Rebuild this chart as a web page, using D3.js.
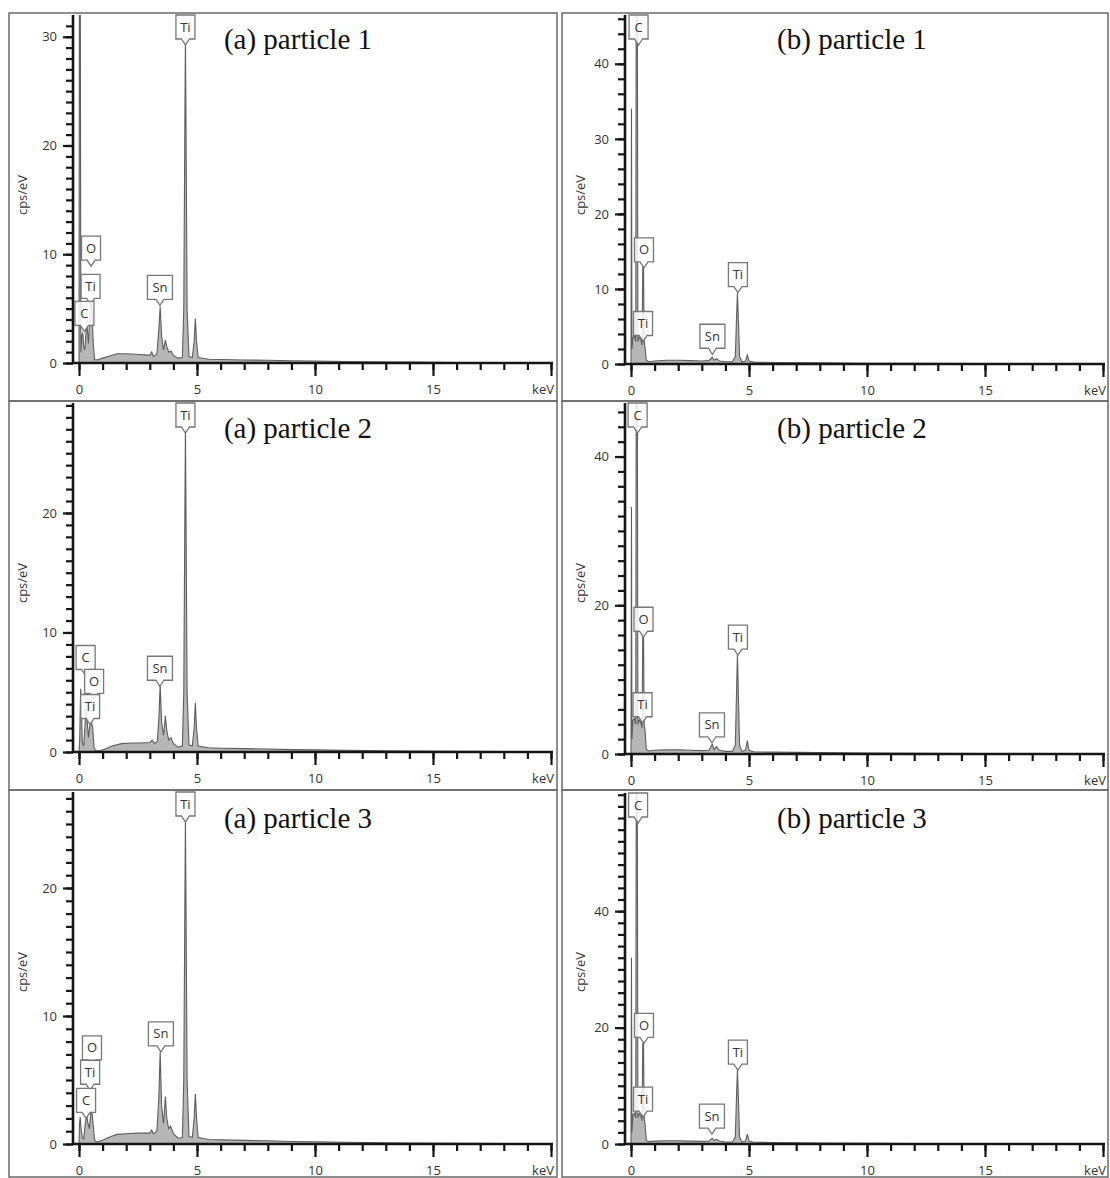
<!DOCTYPE html>
<html><head><meta charset="utf-8">
<script src="https://cdn.jsdelivr.net/npm/d3@7"></script>
<style>body{margin:0;background:#fff} svg{display:block}</style>
</head><body>
<svg id="c" width="1110" height="1178"></svg>
<script>
// ---------- DATA ----------
const titles = ["(a) particle 1","(b) particle 1","(a) particle 2","(b) particle 2","(a) particle 3","(b) particle 3"];
const yAxisTitle = "cps/eV";
const xUnit = "keV";
const xTickLabels = [0, 5, 10, 15];

// spectra: [keV, cps/eV]
const specA1 = [[0,0],[0.02,40],[0.05,40],[0.08,1],[0.12,2.5],[0.16,2.8],[0.2,1.5],[0.25,1.2],[0.3,3],[0.35,3.2],[0.4,1.8],[0.45,4],[0.5,5.6],[0.55,5],[0.6,2],[0.66,0.3],[0.8,0.3],[1.0,0.45],[1.3,0.65],[1.6,0.85],[2.0,0.85],[2.4,0.8],[2.8,0.75],[3.0,0.7],[3.08,1.0],[3.15,0.6],[3.3,0.8],[3.38,3],[3.44,5.2],[3.5,2.5],[3.58,1.2],[3.66,2.1],[3.72,1.5],[3.8,1.0],[3.9,1.1],[4.0,0.7],[4.2,0.45],[4.38,0.5],[4.44,5],[4.48,20],[4.51,30],[4.54,20],[4.58,5],[4.66,0.6],[4.8,0.5],[4.88,2],[4.93,4.1],[4.98,2],[5.05,0.5],[5.5,0.35],[6,0.32],[7,0.28],[8,0.25],[9,0.2],[10,0.18],[12,0.12],[14,0.08],[16,0.05],[18,0.03],[20,0.02]];
const specA2 = [[0,0],[0.03,1],[0.07,5.3],[0.1,4],[0.14,0.8],[0.2,0.5],[0.25,2],[0.3,3.8],[0.35,2.5],[0.4,1.2],[0.46,2.2],[0.52,2.6],[0.58,2],[0.64,0.4],[0.7,0.1],[0.9,0.1],[1.1,0.25],[1.4,0.5],[1.8,0.7],[2.2,0.75],[2.6,0.75],[3.0,0.8],[3.1,1.0],[3.2,0.7],[3.32,0.9],[3.39,3],[3.44,5.6],[3.5,2.5],[3.58,1.4],[3.66,3.0],[3.72,1.8],[3.8,1.0],[3.9,1.2],[4.0,0.7],[4.2,0.4],[4.38,0.5],[4.44,5],[4.48,18],[4.51,27],[4.54,18],[4.58,5],[4.66,0.6],[4.8,0.5],[4.88,2],[4.93,4.1],[4.98,2],[5.05,0.5],[5.5,0.35],[6,0.32],[7,0.28],[8,0.25],[9,0.2],[10,0.18],[12,0.12],[14,0.08],[16,0.05],[18,0.03],[20,0.02]];
const specA3 = [[0,0],[0.02,1.5],[0.05,2.1],[0.09,1.2],[0.14,0.5],[0.2,0.4],[0.26,1.5],[0.32,2.3],[0.38,1.6],[0.44,1.2],[0.5,2.4],[0.55,2.5],[0.6,1.5],[0.66,0.3],[0.75,0.15],[1.0,0.3],[1.3,0.55],[1.6,0.75],[2.0,0.8],[2.5,0.85],[3.0,0.85],[3.08,1.1],[3.15,0.8],[3.3,1.0],[3.38,3.5],[3.44,7.2],[3.5,3],[3.58,1.6],[3.66,3.7],[3.72,2],[3.8,1.2],[3.88,1.4],[4.0,0.8],[4.2,0.45],[4.38,0.5],[4.44,5],[4.48,17],[4.51,25.3],[4.54,17],[4.58,5],[4.66,0.6],[4.8,0.5],[4.88,2],[4.93,3.9],[4.98,2],[5.05,0.5],[5.5,0.35],[6,0.32],[7,0.28],[8,0.25],[9,0.2],[10,0.18],[12,0.12],[14,0.08],[16,0.05],[18,0.03],[20,0.02]];
const specB1 = [[0,0],[0.02,34],[0.04,2],[0.08,3.5],[0.14,3.8],[0.2,3],[0.23,70],[0.26,70],[0.29,3],[0.35,3.6],[0.42,3.2],[0.47,2.5],[0.5,13],[0.53,13],[0.56,3],[0.6,2],[0.65,0.5],[0.75,0.3],[1.0,0.4],[1.5,0.5],[2.0,0.5],[2.5,0.45],[3.0,0.4],[3.3,0.45],[3.44,0.9],[3.52,0.5],[3.62,0.7],[3.75,0.4],[4.0,0.3],[4.3,0.3],[4.42,1],[4.47,6],[4.51,9.5],[4.55,6],[4.6,1],[4.7,0.3],[4.85,0.4],[4.93,1.2],[5.0,0.4],[5.2,0.25],[6,0.2],[8,0.15],[10,0.1],[12,0.08],[15,0.05],[20,0.02]];
const specB2 = [[0,0],[0.02,33.2],[0.04,2],[0.08,4.5],[0.14,4.8],[0.2,4],[0.23,70],[0.26,70],[0.29,4],[0.35,4.6],[0.42,4.2],[0.47,3.5],[0.5,16.5],[0.53,16.5],[0.56,4],[0.6,3],[0.65,0.6],[0.75,0.4],[1.0,0.5],[1.5,0.55],[2.0,0.55],[2.5,0.5],[3.0,0.45],[3.3,0.5],[3.44,1.3],[3.52,0.6],[3.62,1.0],[3.75,0.5],[4.0,0.35],[4.3,0.35],[4.42,1.2],[4.47,8],[4.51,13.4],[4.55,8],[4.6,1.2],[4.7,0.35],[4.85,0.5],[4.93,1.8],[5.0,0.5],[5.2,0.3],[6,0.25],[8,0.18],[10,0.12],[12,0.09],[15,0.05],[20,0.02]];
const specB3 = [[0,0],[0.02,32],[0.04,2],[0.08,5],[0.14,5.3],[0.2,4.5],[0.23,80],[0.26,80],[0.29,4.5],[0.35,5.2],[0.42,4.8],[0.47,4],[0.5,17.3],[0.53,17.3],[0.56,4.5],[0.6,3.2],[0.65,0.6],[0.75,0.4],[1.0,0.5],[1.5,0.55],[2.0,0.55],[2.5,0.5],[3.0,0.45],[3.3,0.5],[3.44,1.0],[3.52,0.6],[3.62,0.8],[3.75,0.5],[4.0,0.35],[4.3,0.35],[4.42,1.2],[4.47,8],[4.51,12.8],[4.55,8],[4.6,1.2],[4.7,0.35],[4.85,0.5],[4.93,1.7],[5.0,0.5],[5.2,0.3],[6,0.25],[8,0.18],[10,0.12],[12,0.09],[15,0.05],[20,0.02]];

// peak labels: element, keV, value at pointer tip (null = pinned at top)
const labA1 = [["Ti",4.51,null],["O",0.51,8.9],["Ti",0.49,5.4],["C",0.23,2.9],["Sn",3.43,5.3]];
const labA2 = [["Ti",4.51,null],["C",0.28,6.4],["O",0.64,4.4],["Ti",0.47,2.3],["Sn",3.43,5.5]];
const labA3 = [["Ti",4.51,null],["O",0.55,6.1],["Ti",0.47,4.2],["C",0.3,2.0],["Sn",3.47,7.2]];
const labB1 = [["C",0.32,null],["O",0.55,12.8],["Ti",0.51,3.0],["Sn",3.45,1.3],["Ti",4.53,9.5]];
const labB2 = [["C",0.28,null],["O",0.53,15.7],["Ti",0.49,4.2],["Sn",3.43,1.5],["Ti",4.53,13.3]];
const labB3 = [["C",0.3,null],["O",0.55,17.3],["Ti",0.51,4.6],["Sn",3.43,1.7],["Ti",4.53,12.7]];

// axis domains / tick steps
const yMaxes = [32.0, 46.5, 29.2, 47.2, 27.5, 60.3];
const yMinorSteps = [1, 2, 1, 2, 1, 2];
const yMajorSteps = [10, 10, 10, 20, 10, 20];

// ---------- LAYOUT ----------
const spectra = [specA1, specB1, specA2, specB2, specA3, specB3];
const labels = [labA1, labB1, labA2, labB2, labA3, labB3];
const colX0 = [79, 631];       // pixel of 0 keV
const colAxisX = [73, 625];
const colBox = [[9, 557], [562, 1108]];
const rowTop = [13, 401, 790];
const rowBot = [401, 790, 1177];
const zeroY = [[363, 364], [752, 754], [1144, 1144]];
const axisTop = [[15, 15], [403, 403], [792, 793]];
const titleBase = [49, 438, 828];
const titleCx = [298, 852];

const svg = d3.select("#c");
const ink = "#151515";

spectra.forEach((spec, i) => {
  const row = Math.floor(i / 2), col = i % 2;
  const g = svg.append("g");
  const x = d3.scaleLinear().domain([0, 20]).range([colX0[col], colX0[col] + 472]);
  const y = d3.scaleLinear().domain([0, yMaxes[i]]).range([zeroY[row][col], axisTop[row][col]]);
  const ax = colAxisX[col];
  const y0 = y(0);

  // panel box
  g.append("rect").attr("x", colBox[col][0]).attr("y", rowTop[row])
    .attr("width", colBox[col][1] - colBox[col][0]).attr("height", rowBot[row] - rowTop[row])
    .attr("fill", "none").attr("stroke", "#6a6a6a").attr("stroke-width", 1.5);

  // clip
  const cid = "clip" + i;
  g.append("clipPath").attr("id", cid).append("rect")
    .attr("x", ax).attr("y", axisTop[row][col]).attr("width", x(20) - ax + 2).attr("height", y0 - axisTop[row][col]);

  const pg = g.append("g").attr("clip-path", `url(#${cid})`);
  pg.append("path").datum(spec)
    .attr("d", d3.area().x(d => x(d[0])).y0(y0).y1(d => y(d[1])))
    .attr("fill", "#b6b6b6");
  pg.append("path").datum(spec)
    .attr("d", d3.line().x(d => x(d[0])).y(d => y(d[1])))
    .attr("fill", "none").attr("stroke", "#5e5e5e").attr("stroke-width", 1.1);

  // x axis
  const xMinor = g.append("g").attr("transform", `translate(0,${y0})`)
    .call(d3.axisBottom(x).tickValues(d3.range(0, 21)).tickSize(7).tickFormat(""));
  const xMajor = g.append("g").attr("transform", `translate(0,${y0})`)
    .call(d3.axisBottom(x).tickValues([0, 5, 10, 15, 20]).tickSize(13).tickPadding(9)
      .tickFormat(d => xTickLabels.includes(d) ? d : ""));
  [xMinor, xMajor].forEach(a => {
    a.select(".domain").remove();
    a.selectAll("line").attr("stroke", ink).attr("stroke-width", 2.2);
    a.selectAll("text").attr("font-family", "'Open Sans', sans-serif").attr("font-size", 13).attr("fill", "#333");
  });
  g.append("text").attr("x", x(20) + 3).attr("y", y0 + 22).attr("dy", "0.71em")
    .attr("text-anchor", "end").attr("font-family", "'Open Sans', sans-serif")
    .attr("font-size", 13).attr("fill", "#333").text(xUnit);
  g.append("line").attr("x1", ax).attr("x2", x(20) + 2).attr("y1", y0).attr("y2", y0)
    .attr("stroke", ink).attr("stroke-width", 2.4);

  // y axis
  const ymax = yMaxes[i];
  const yMinor = g.append("g").attr("transform", `translate(${ax},0)`)
    .call(d3.axisLeft(y).tickValues(d3.range(0, ymax, yMinorSteps[i])).tickSize(7).tickFormat(""));
  const yMajor = g.append("g").attr("transform", `translate(${ax},0)`)
    .call(d3.axisLeft(y).tickValues(d3.range(0, ymax - 1, yMajorSteps[i])).tickSize(10).tickPadding(6));
  [yMinor, yMajor].forEach(a => {
    a.select(".domain").remove();
    a.selectAll("line").attr("stroke", ink).attr("stroke-width", 2.2);
    a.selectAll("text").attr("font-family", "'Open Sans', sans-serif").attr("font-size", 13).attr("fill", "#333");
  });
  g.append("line").attr("x1", ax).attr("x2", ax).attr("y1", axisTop[row][col]).attr("y2", y0 + 1)
    .attr("stroke", ink).attr("stroke-width", 2.6);

  // y title
  const ytx = col === 0 ? 22 : 580;
  const yty = rowTop[row] + 182;
  g.append("text").attr("transform", `translate(${ytx},${yty}) rotate(-90)`)
    .attr("text-anchor", "middle").attr("dy", "0.35em")
    .attr("font-family", "'Open Sans', sans-serif").attr("font-size", 13).attr("fill", "#333")
    .text(yAxisTitle);

  // panel title
  g.append("text").attr("x", titleCx[col]).attr("y", titleBase[row])
    .attr("text-anchor", "middle").attr("font-family", "'Liberation Serif', 'Times New Roman', serif")
    .attr("font-size", 29).attr("fill", "#111").text(titles[i]);

  // peak labels
  labels[i].forEach(([el, kev, tip]) => {
    const cx = x(kev);
    const w = el === "Sn" ? 25 : 19;
    const h = 24, p = 6;
    let bottom;
    if (tip === null) bottom = axisTop[row][col] + h;
    else bottom = y(tip) - p;
    const top = bottom - h;
    const l = cx - w / 2, r = cx + w / 2;
    const d = `M${l},${top}H${r}V${bottom}H${cx + 4}L${cx},${bottom + p}L${cx - 4},${bottom}H${l}Z`;
    g.append("path").attr("d", d).attr("fill", "#fff").attr("fill-opacity", 0.85)
      .attr("stroke", "#777").attr("stroke-width", 1.3);
    g.append("text").attr("x", cx).attr("y", top + h / 2).attr("dy", "0.35em")
      .attr("text-anchor", "middle").attr("font-family", "'Open Sans', sans-serif")
      .attr("font-size", 13).attr("fill", "#333").text(el);
  });
});
</script>
</body></html>
